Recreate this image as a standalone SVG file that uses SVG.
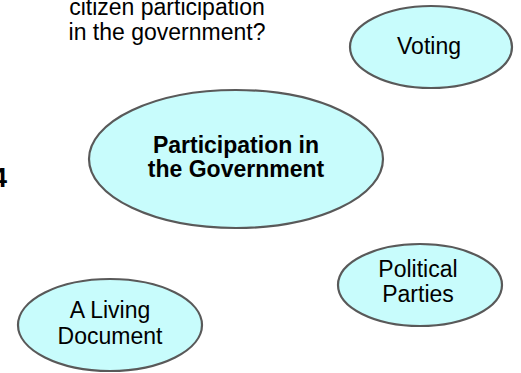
<svg xmlns="http://www.w3.org/2000/svg" width="521" height="373" viewBox="0 0 521 373">
<style>
.n{fill:#C8FCFC;stroke:#595959;stroke-width:2.2}
.t{font-family:"Liberation Sans",Arial,sans-serif;font-size:23px;fill:#000;text-anchor:middle}
.b{font-weight:bold}
</style>
<rect width="521" height="373" fill="#fff"/>
<g id="question">
<text class="t" x="167" y="15" font-size="22">citizen participation</text>
<text class="t" x="167" y="40">in the government?</text>
</g>
<g id="label-4">
<text class="t b" x="-8" y="187" style="text-anchor:start;font-size:27px">4</text>
</g>
<g id="connectors"></g>
<g id="central">
<ellipse class="n" cx="236" cy="159" rx="147" ry="69"/>
<text class="t b" x="236" y="153">Participation in</text>
<text class="t b" x="236" y="177">the Government</text>
</g>
<g id="voting">
<ellipse class="n" cx="431" cy="47" rx="81" ry="41"/>
<text class="t" x="429" y="54">Voting</text>
</g>
<g id="political-parties">
<ellipse class="n" cx="420" cy="285" rx="82" ry="41"/>
<text class="t" x="418" y="277">Political</text>
<text class="t" x="418" y="302">Parties</text>
</g>
<g id="living-document">
<ellipse class="n" cx="110" cy="325" rx="92" ry="46"/>
<text class="t" x="110" y="318">A Living</text>
<text class="t" x="110" y="344">Document</text>
</g>
</svg>
